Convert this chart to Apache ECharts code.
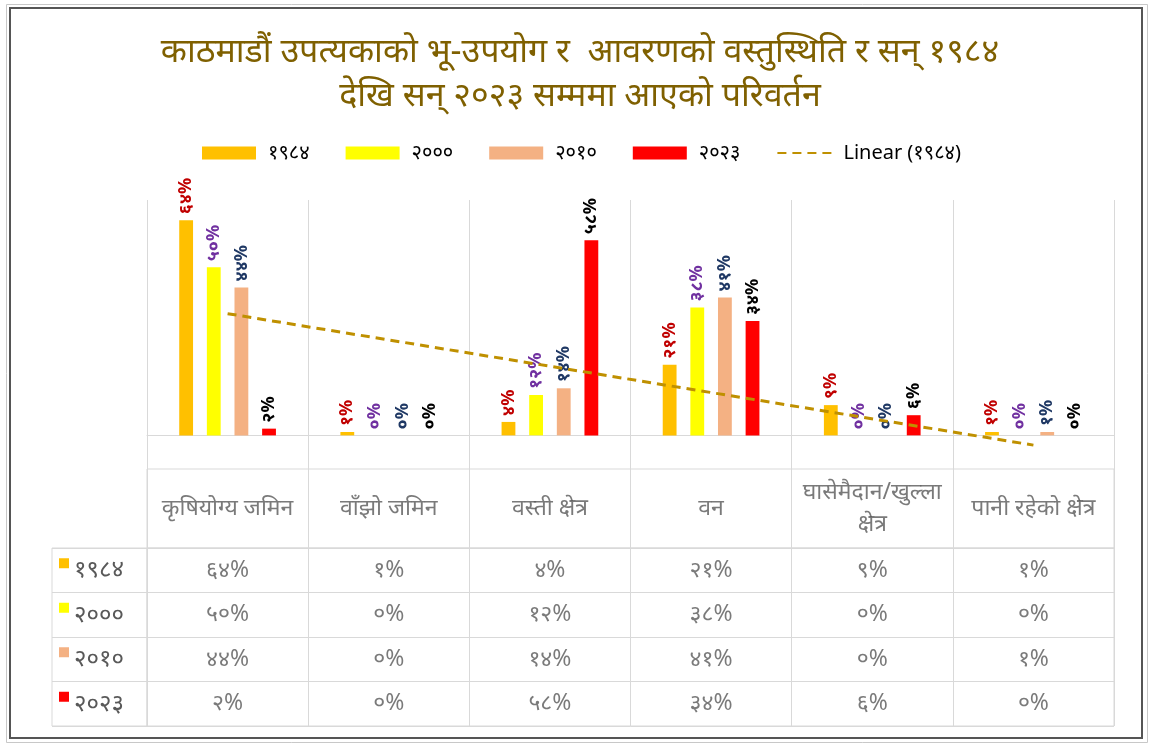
<!DOCTYPE html>
<html>
<head>
<meta charset="utf-8">
<script src="https://cdn.jsdelivr.net/npm/echarts@6/dist/echarts.min.js"></script>
<style>
  html, body { margin: 0; padding: 0; background: #fff; }
  #chart { width: 1151px; height: 749px; }
</style>
</head>
<body>
<div id="chart"></div>
<script>
// categories and yearly shares (%)
const categories = ['कृषियोग्य जमिन', 'वाँझो जमिन', 'वस्ती क्षेत्र', 'वन', 'घासेमैदान/खुल्ला\nक्षेत्र', 'पानी रहेको क्षेत्र'];
const years = ['१९८४', '२०००', '२०१०', '२०२३'];
const v1984 = [64, 1, 4, 21, 9, 1];
const v2000 = [50, 0, 12, 38, 0, 0];
const v2010 = [44, 0, 14, 41, 0, 1];
const v2023 = [2, 0, 58, 34, 6, 0];
// Linear (1984) trend line, end values
const trend1984 = [36.2, null, null, null, null, -2.9];

const barColors = ['#FFC000', '#FFFF00', '#F4B183', '#FF0000'];
const labelColors = ['#C00000', '#7030A0', '#1F3864', '#000000'];
const FONT = '"Noto Sans", "Noto Sans Devanagari", sans-serif';

const toDev = n => String(n).replace(/\d/g, d => '०१२३४५६७८९'[d]);

const chart = echarts.init(document.getElementById('chart'));
const allValues = [v1984, v2000, v2010, v2023];

const barSeries = allValues.map((vals, i) => ({
  name: years[i],
  type: 'bar',
  xAxisIndex: 0,
  yAxisIndex: 0,
  data: vals,
  barGap: '100%',
  barCategoryGap: '40%',
  itemStyle: { color: barColors[i] },
  label: {
    show: true,
    position: 'top',
    rotate: 90,
    align: 'left',
    verticalAlign: 'middle',
    distance: 6,
    color: labelColors[i],
    fontFamily: FONT,
    fontSize: 18,
    fontWeight: 'bold',
    formatter: p => toDev(p.value) + '%'
  }
}));

// table cells: [category, row, value]
const cellData = [];
allValues.forEach((vals, r) => vals.forEach((v, c) => cellData.push([c, r, v])));
const headerData = categories.map((c, i) => [i, 0, c]);

const lineColor = '#D9D9D9';

const option = {
  backgroundColor: '#fff',
  animation: false,
  textStyle: { fontFamily: FONT },
  title: {
    text: 'काठमाडौं उपत्यकाको भू-उपयोग र  आवरणको वस्तुस्थिति र सन् १९८४\nदेखि सन् २०२३ सम्ममा आएको परिवर्तन',
    left: 575,
    top: 25,
    textAlign: 'center',
    textStyle: { color: '#7F6000', fontSize: 34, fontWeight: 'normal', lineHeight: 44, fontFamily: FONT, align: 'center' }
  },
  legend: {
    top: 138,
    left: 197,
    itemWidth: 54,
    itemHeight: 13,
    itemGap: 36,
    textStyle: { color: '#000', fontSize: 20, fontFamily: FONT, padding: [0, 0, 0, 7] },
    data: [
      { name: years[0], icon: 'rect' },
      { name: years[1], icon: 'rect' },
      { name: years[2], icon: 'rect' },
      { name: years[3], icon: 'rect' },
      { name: 'Linear (१९८४)', itemStyle: { opacity: 0 } }
    ]
  },
  grid: [
    { left: 147, right: 37, top: 200, height: 269, show: false },
    { left: 147, right: 37, top: 469, height: 79, show: true, borderColor: lineColor, borderWidth: 1, backgroundColor: 'transparent' },
    { left: 147, right: 37, top: 548, height: 178, show: true, borderColor: lineColor, borderWidth: 1, backgroundColor: 'transparent' },
    { left: 52, width: 95, top: 548, height: 178, show: true, borderColor: lineColor, borderWidth: 1, backgroundColor: 'transparent' }
  ],
  xAxis: [
    {
      type: 'category', gridIndex: 0, data: categories,
      axisLabel: { show: false }, axisTick: { show: false },
      axisLine: { show: true, onZero: true, lineStyle: { color: lineColor } },
      splitLine: { show: true, interval: 0, lineStyle: { color: lineColor } }
    },
    {
      type: 'category', gridIndex: 1, data: categories,
      axisLabel: { show: false }, axisTick: { show: false }, axisLine: { show: false },
      splitLine: { show: true, interval: 0, lineStyle: { color: lineColor } }
    },
    {
      type: 'category', gridIndex: 2, data: categories,
      axisLabel: { show: false }, axisTick: { show: false }, axisLine: { show: false },
      splitLine: { show: true, interval: 0, lineStyle: { color: lineColor } }
    },
    {
      type: 'value', gridIndex: 3, min: 0, max: 1, show: false
    }
  ],
  yAxis: [
    { type: 'value', gridIndex: 0, min: -10, max: 70, show: false, splitLine: { show: false } },
    { type: 'category', gridIndex: 1, data: ['h'], show: false },
    {
      type: 'category', gridIndex: 2, data: years, inverse: true,
      axisLabel: { show: false }, axisTick: { show: false }, axisLine: { show: false },
      splitLine: { show: true, interval: 0, lineStyle: { color: lineColor } }
    },
    {
      type: 'category', gridIndex: 3, data: years, inverse: true,
      axisTick: { show: false }, axisLine: { show: false },
      splitLine: { show: true, interval: 0, lineStyle: { color: lineColor } },
      axisLabel: {
        inside: true,
        margin: 7,
        formatter: (v) => {
          const i = years.indexOf(v);
          return '{s' + i + '|}{t|' + v + '}';
        },
        rich: {
          s0: { width: 10, height: 10, backgroundColor: barColors[0], verticalAlign: 'top' },
          s1: { width: 10, height: 10, backgroundColor: barColors[1], verticalAlign: 'top' },
          s2: { width: 10, height: 10, backgroundColor: barColors[2], verticalAlign: 'top' },
          s3: { width: 10, height: 10, backgroundColor: barColors[3], verticalAlign: 'top' },
          t: { fontSize: 24, color: '#595959', fontFamily: FONT, padding: [0, 0, 0, 5] }
        }
      }
    }
  ],
  series: [
    ...barSeries,
    {
      name: 'Linear (१९८४)',
      type: 'line',
      xAxisIndex: 0,
      yAxisIndex: 0,
      data: trend1984,
      connectNulls: true,
      symbol: 'none',
      z: 5,
      itemStyle: { color: '#BF9000' },
      lineStyle: { color: '#BF9000', width: 3, type: [9, 6] }
    },
    {
      type: 'scatter',
      xAxisIndex: 1,
      yAxisIndex: 1,
      symbolSize: 0,
      silent: true,
      data: headerData,
      label: {
        show: true, position: 'inside',
        formatter: p => p.value[2],
        color: '#595959', fontSize: 23, lineHeight: 32, fontFamily: FONT
      }
    },
    {
      type: 'scatter',
      xAxisIndex: 2,
      yAxisIndex: 2,
      symbolSize: 0,
      silent: true,
      data: cellData,
      label: {
        show: true, position: 'inside',
        formatter: p => toDev(p.value[2]) + '%',
        color: '#595959', fontSize: 23, fontFamily: FONT
      }
    }
  ],
  graphic: [
    { type: 'rect', shape: { x: 6.5, y: 4.5, width: 1141, height: 738 }, style: { fill: 'none', stroke: '#C8C8C8', lineWidth: 1 }, silent: true },
    { type: 'rect', shape: { x: 10, y: 8, width: 1132, height: 730 }, style: { fill: 'none', stroke: '#555', lineWidth: 2 }, silent: true }
  ]
};

chart.setOption(option);
</script>
</body>
</html>
